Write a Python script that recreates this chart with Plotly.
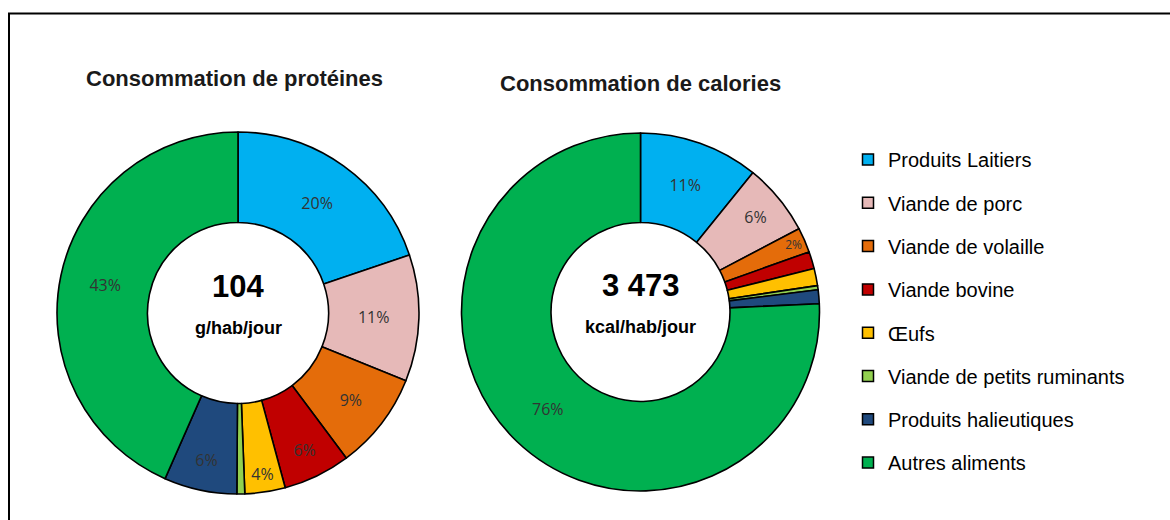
import plotly.graph_objects as go

categories = ["Produits Laitiers", "Viande de porc", "Viande de volaille", "Viande bovine",
              "Œufs", "Viande de petits ruminants", "Produits halieutiques", "Autres aliments"]
proteines = [19.8, 11.3, 8.7, 6.0, 3.6, 0.7, 6.5, 43.4]
calories = [10.8, 6.5, 2.25, 1.55, 1.55, 0.36, 1.25, 75.74]
colors = ["#00B0F0", "#E6B9B8", "#E46C0A", "#C00000", "#FFC000", "#92D050", "#1F497D", "#00B050"]
titles = ["Consommation de protéines", "Consommation de calories"]
totals = ["104", "3 473"]
units = ["g/hab/jour", "kcal/hab/jour"]

FONT = "Liberation Sans Narrow, Arial Narrow, Liberation Sans, Arial, sans-serif"


def labels_for(vals, threshold=2):
    return [f"{round(v):.0f}%" if v >= threshold else "" for v in vals]


W, H = 1170, 520
fig = go.Figure()

doms = [
    dict(x=[57 / W, 419 / W], y=[1 - 494 / H, 1 - 132 / H]),
    dict(x=[461 / W, 820 / W], y=[1 - 491 / H, 1 - 133 / H]),
]

for i, vals in enumerate([proteines, calories]):
    fig.add_trace(go.Pie(
        labels=categories, values=vals, hole=0.5, sort=False, direction="clockwise",
        rotation=0, domain=doms[i],
        marker=dict(colors=colors, line=dict(color="black", width=1.6)),
        text=labels_for(vals), textinfo="text", textposition="inside",
        insidetextorientation="horizontal",
        textfont=dict(family="Open Sans, Noto Sans, sans-serif", size=16, color="#333333"),
        hoverinfo="label+percent", showlegend=False,
    ))

# legend entries (one per category, own group so spacing can be set)
for cat, col in zip(categories, colors):
    fig.add_trace(go.Scatter(
        x=[None], y=[None], mode="markers", name=cat, legendgroup=cat,
        marker=dict(symbol="square", size=11, color=col, line=dict(color="black", width=1.5)),
        showlegend=True, hoverinfo="skip",
    ))

centers = [(238 / W, 1 - 313 / H), (640.5 / W, 1 - 312 / H)]
title_pos = [(234 / W, 1 - 78 / H), (640 / W, 1 - 84 / H)]
anns = []
for i in range(2):
    cx, cy = centers[i]
    anns.append(dict(x=title_pos[i][0], y=title_pos[i][1], xref="paper", yref="paper",
                     xanchor="center", yanchor="middle",
                     text=f"<b>{titles[i]}</b>", showarrow=False,
                     font=dict(family=FONT, size=22, color="#1a1a1a")))
    anns.append(dict(x=cx, y=cy + 27 / H, xref="paper", yref="paper",
                     xanchor="center", yanchor="middle",
                     text=f"<b>{totals[i]}</b>", showarrow=False,
                     font=dict(family=FONT, size=31, color="black")))
    anns.append(dict(x=cx, y=cy - 15 / H, xref="paper", yref="paper",
                     xanchor="center", yanchor="middle",
                     text=f"<b>{units[i]}</b>", showarrow=False,
                     font=dict(family=FONT, size=18, color="black")))

fig.update_layout(
    width=W, height=H,
    margin=dict(l=0, r=0, t=0, b=0),
    paper_bgcolor="white", plot_bgcolor="white",
    xaxis=dict(visible=False), yaxis=dict(visible=False),
    annotations=anns,
    legend=dict(x=848 / W, y=1 - 140 / H, xanchor="left", yanchor="top",
                font=dict(family=FONT, size=20, color="black"),
                tracegroupgap=14.3, itemsizing="trace", itemwidth=30,
                bgcolor="rgba(0,0,0,0)"),
    shapes=[dict(type="rect", xref="paper", yref="paper",
                 x0=9 / W, x1=1.02, y0=-0.02, y1=1 - 13.5 / H,
                 line=dict(color="black", width=2))],
)

fig.write_html("out.html", config={"displayModeBar": False},
               post_script="document.body.style.margin='0px';")
